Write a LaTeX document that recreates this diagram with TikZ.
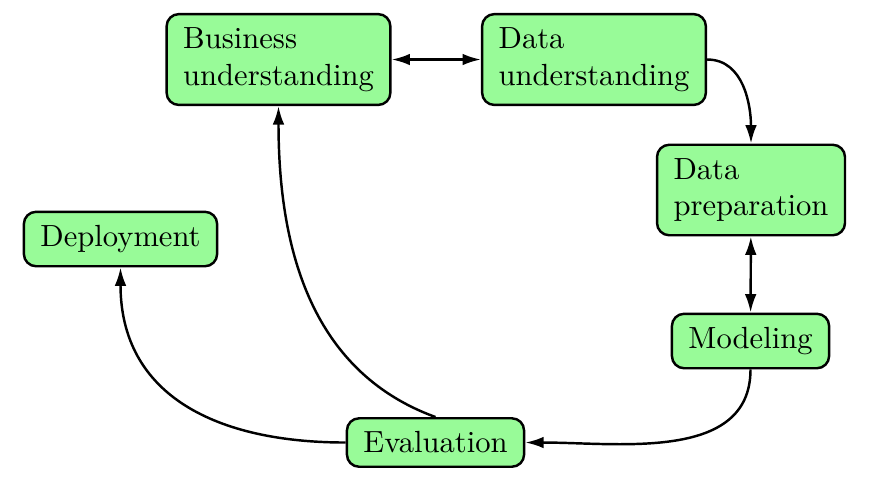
\documentclass[tikz,border=0pt]{standalone}
\usetikzlibrary{arrows.meta}
\definecolor{boxgreen}{RGB}{152,251,152}
\begin{document}
\begin{tikzpicture}[x=0.3268pt,y=-0.3268pt,
  tip/.tip={Latex[length=6pt,width=3.8pt]},
  phase/.style={draw, thick, fill=boxgreen, rounded corners=4pt, align=left,
    inner xsep=5.4pt, inner ysep=4.4pt, font=\normalsize},
  conn/.style={thick, -tip},
  biconn/.style={thick, tip-tip}]
\useasboundingbox (0,0) rectangle (872,478);
\node[phase] (bu) at (278.5,59.5) {Business\\understanding};
\node[phase] (du) at (594,59.5) {Data\\understanding};
\node[phase] (dp) at (751,190) {Data\\preparation};
\node[phase] (dep) at (120.5,239) {Deployment};
\node[phase] (mod) at (750.5,341) {Modeling};
\node[phase] (ev) at (435.5,442.5) {Evaluation};
\draw[biconn] (bu) -- (du);
\draw[conn] (du.east) to[out=0,in=90] (dp.north);
\draw[biconn] (dp) -- (mod);
\draw[conn] (mod.south) to[out=-90,in=0] (ev.east);
\draw[conn] (ev.north) to[out=160,in=-90] (bu.south);
\draw[conn] (ev.west) to[out=180,in=-90,looseness=1.15] (dep.south);
\end{tikzpicture}
\end{document}
